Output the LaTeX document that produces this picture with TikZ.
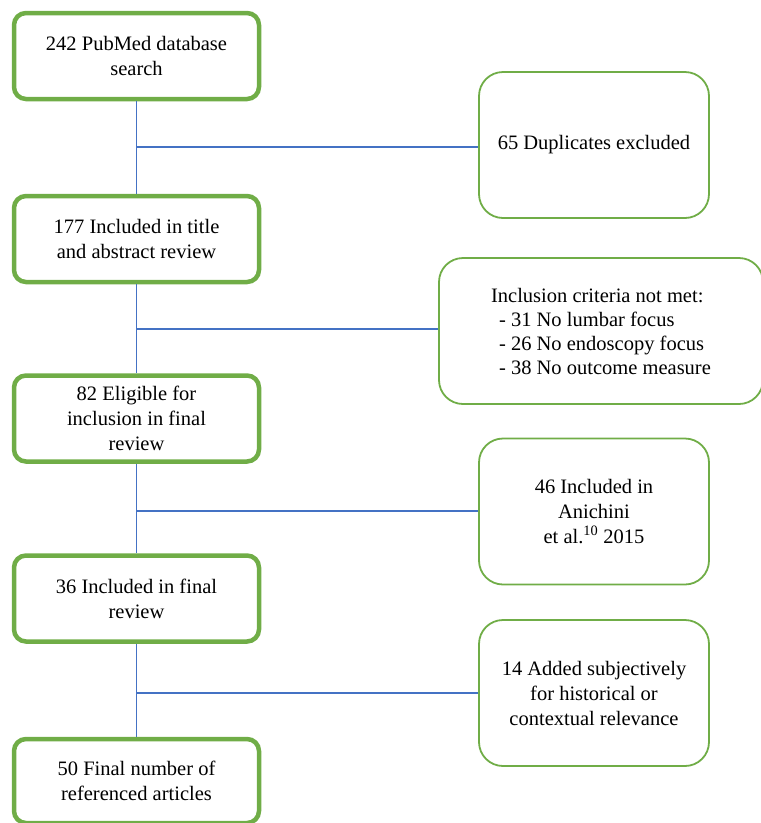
\documentclass[tikz,border=0pt]{standalone}
\usepackage{fontspec}
\setmainfont{Liberation Serif}
\definecolor{boxgreen}{RGB}{112,173,71}
\definecolor{lineblue}{RGB}{68,114,196}
\begin{document}
\begin{tikzpicture}[x=1pt,y=-1pt,
  mainbox/.style={draw=boxgreen,line width=4.5pt,rounded corners=12pt,minimum width=245pt,minimum height=86pt,align=center,inner sep=0pt,font=\fontsize{20.5}{25}\selectfont},
  sidebox/.style={draw=boxgreen,line width=1.8pt,rounded corners=24pt,minimum width=230pt,minimum height=146pt,align=center,inner sep=0pt,font=\fontsize{20.5}{25}\selectfont},
  conn/.style={draw=lineblue,line width=1.3pt}]
\useasboundingbox (0,0) rectangle (761,823);
\node[mainbox] (b1) at (136.5,56) {242 PubMed database\\search};
\node[mainbox] (b2) at (136.5,239) {177 Included in title\\and abstract review};
\node[mainbox] (b3) at (136.5,418.5) {82 Eligible for\\inclusion in final\\review};
\node[mainbox] (b4) at (136.5,598.5) {36 Included in final\\review};
\node[mainbox,minimum height=84pt] (b5) at (136.5,781) {50 Final number of\\referenced articles};
\node[sidebox] (r1) at (594,145) {65 Duplicates excluded};
\node[sidebox,minimum width=324pt,align=left,font=\fontsize{20.5}{24}\selectfont] (r2) at (601,331) {Inclusion criteria not met:\\\hspace*{8pt}- 31 No lumbar focus\\\hspace*{8pt}- 26 No endoscopy focus\\\hspace*{8pt}- 38 No outcome measure};
\node[sidebox] (r3) at (594,511.5) {46 Included in\\Anichini\\et al.\textsuperscript{10} 2015};
\node[sidebox] (r4) at (594,693) {14 Added subjectively\\for historical or\\contextual relevance};
\coordinate (j1) at (136.5,147);
\coordinate (j2) at (136.5,329);
\coordinate (j3) at (136.5,511);
\coordinate (j4) at (136.5,693);
\draw[conn] (b1.south) -- (b2.north);
\draw[conn] (b2.south) -- (b3.north);
\draw[conn] (b3.south) -- (b4.north);
\draw[conn] (b4.south) -- (b5.north);
\draw[conn] (j1) -- (j1 -| r1.west);
\draw[conn] (j2) -- (j2 -| r2.west);
\draw[conn] (j3) -- (j3 -| r3.west);
\draw[conn] (j4) -- (j4 -| r4.west);
\end{tikzpicture}
\end{document}
